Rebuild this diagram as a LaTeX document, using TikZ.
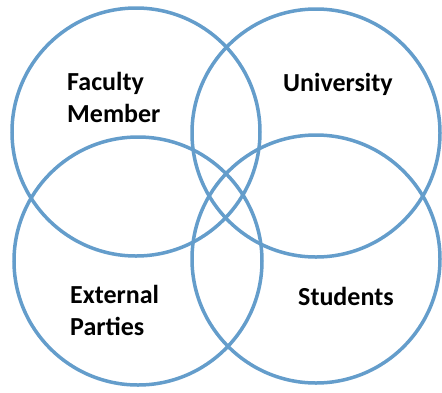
\documentclass[tikz,border=0pt]{standalone}
\usepackage{fontspec}
\setmainfont{Carlito}
\definecolor{ringblue}{RGB}{100,157,203}
\begin{document}
\begin{tikzpicture}[x=1pt,y=-1pt,
  ring/.style={circle, draw=ringblue, line width=3.5pt, minimum size=248pt, inner sep=0pt},
  lbl/.style={font=\fontsize{26}{32}\selectfont\bfseries, anchor=base west, inner sep=0pt, text=black}]
\useasboundingbox (0,0) rectangle (442,392);
\node[ring] (fm) at (136,132) {};
\node[ring] (un) at (316,133) {};
\node[ring] (ep) at (138,261) {};
\node[ring] (st) at (316,259) {};
\node[lbl] (fac1) at (67,90) {Faculty};
\node[lbl] (fac2) at (67,122) {Member};
\node[lbl] (uni) at (283,91) {University};
\node[lbl] (ext1) at (70,303) {External};
\node[lbl] (ext2) at (70,335) {Parties};
\node[lbl] (stu) at (298,305) {Students};
\end{tikzpicture}
\end{document}
